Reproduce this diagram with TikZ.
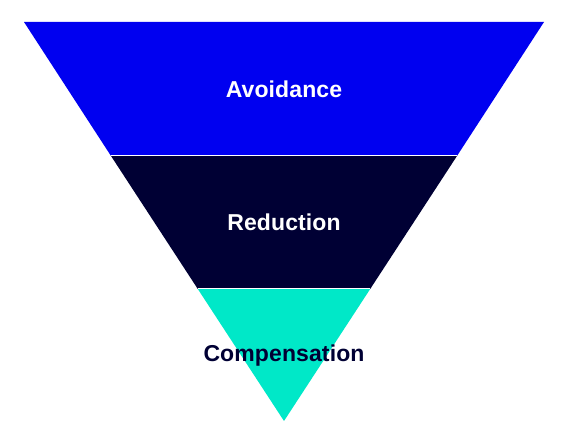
\documentclass[tikz,border=0pt]{standalone}
\usepackage{fontspec}
\setmainfont{Liberation Sans}
\definecolor{cblue}{RGB}{0,0,240}
\definecolor{cnavy}{RGB}{0,0,52}
\definecolor{cteal}{RGB}{0,232,200}
\begin{document}
\begin{tikzpicture}[x=1pt,y=-1pt,
  band/.style={draw=white,line width=1pt},
  lbl/.style={font=\fontsize{23}{27}\selectfont\addfontfeatures{LetterSpace=0.5}\bfseries,inner sep=0pt}]
\useasboundingbox[fill=white] (0,0) rectangle (568,427);
\coordinate (TL) at (24,22);
\coordinate (TR) at (544,22);
\coordinate (A) at (284,421);
\coordinate (L1) at (110.7,155.5);
\coordinate (R1) at (457.3,155.5);
\coordinate (L2) at (197.8,289);
\coordinate (R2) at (370.2,289);
\fill[cblue] (TL) -- (TR) -- (R1) -- (L1) -- cycle;
\fill[cnavy] (L1) -- (R1) -- (R2) -- (L2) -- cycle;
\fill[cteal] (L2) -- (R2) -- (A) -- cycle;
\draw[band] (L1) -- (R1);
\draw[band] (L2) -- (R2);
\node[lbl,text=white] (av) at (284,89) {Avoidance};
\node[lbl,text=white] (re) at (284,222) {Reduction};
\node[lbl,text=cnavy] (co) at (284,356) {Compensation};
\end{tikzpicture}
\end{document}
